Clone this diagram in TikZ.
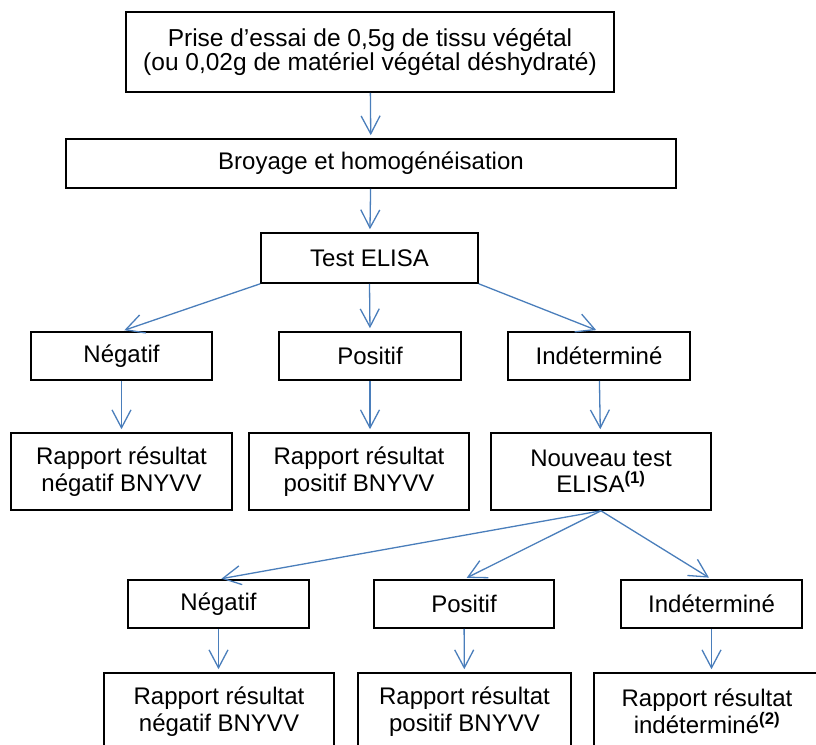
\documentclass[tikz,border=0pt]{standalone}
\usepackage{fontspec}
\setmainfont{Liberation Sans}
\usepackage{xcolor}
\usepackage{tikz}
\usetikzlibrary{arrows.meta,positioning,calc}
\definecolor{flowblue}{HTML}{4A7EBB}

\begin{document}
\begin{tikzpicture}[x=1pt, y=-1pt,
    box/.style={draw=black, line width=1.6pt, align=center, inner sep=0pt,
        font=\fontsize{24}{26.5}\selectfont},
    flow/.style={draw=flowblue, line width=1.3pt,
        -{Straight Barb[length=18pt,width=19pt]}, shorten >=3pt}]
    \clip (0,0) rectangle (816,744);

    % Preparation
    \node[box, font=\fontsize{24.5}{24}\selectfont, minimum width=488pt, minimum height=80pt]
        (prise) at (370,52)
        {Prise d’essai de 0,5g de tissu végétal\\(ou 0,02g de matériel végétal déshydraté)};
    \node[box, minimum width=610pt, minimum height=49pt] (broyage) at (371,163.5)
        {Broyage et homogénéisation};
    \node[box, minimum width=217pt, minimum height=50pt] (elisa) at (369.5,258) {Test ELISA};

    % First test
    \node[box, minimum width=181pt, minimum height=48pt] (neg) at (121.5,356) {Négatif};
    \node[box, minimum width=182pt, minimum height=48pt] (pos) at (370,356) {Positif};
    \node[box, minimum width=182pt, minimum height=48pt] (ind) at (599,356) {Indéterminé};

    \node[box, minimum width=221pt, minimum height=77pt] (rneg) at (121.5,471.5)
        {Rapport résultat\\négatif BNYVV};
    \node[box, minimum width=220pt, minimum height=77pt] (rpos) at (359,471.5)
        {Rapport résultat\\positif BNYVV};
    \node[box, minimum width=220pt, minimum height=77pt] (nouveau) at (601,471.5)
        {Nouveau test\\ELISA\textsuperscript{\bfseries(1)}};

    % Second test
    \node[box, minimum width=181pt, minimum height=48pt] (neg2) at (218.5,604) {Négatif};
    \node[box, minimum width=180pt, minimum height=48pt] (pos2) at (464,604) {Positif};
    \node[box, minimum width=181pt, minimum height=48pt] (ind2) at (711.5,604) {Indéterminé};

    \node[box, minimum width=230pt, minimum height=77pt] (rneg2) at (219,711.5)
        {Rapport résultat\\négatif BNYVV};
    \node[box, minimum width=213pt, minimum height=77pt] (rpos2) at (464.5,711.5)
        {Rapport résultat\\positif BNYVV};
    \node[box, minimum width=226pt, minimum height=77pt] (rind2) at (707,711.5)
        {Rapport résultat\\indéterminé\textsuperscript{\bfseries(2)}};

    % Connectors
    \draw[flow] (prise) -- (broyage);
    \draw[flow] (broyage) -- (elisa);
    \draw[flow] (elisa.south west) -- (neg.north);
    \draw[flow] (elisa.south) -- (pos.north);
    \draw[flow] (elisa.south east) -- (ind.north);
    \draw[flow] (neg) -- (rneg);
    \draw[flow] (pos.south) -- (pos.south |- rpos.north);
    \draw[flow] (ind) -- (nouveau);
    \draw[flow] (nouveau.south) -- (neg2.north);
    \draw[flow] (nouveau.south) -- (pos2.north);
    \draw[flow] (nouveau.south) -- (ind2.north);
    \draw[flow] (neg2.south) -- (neg2.south |- rneg2.north);
    \draw[flow] (pos2) -- (rpos2);
    \draw[flow] (ind2.south) -- (ind2.south |- rind2.north);
\end{tikzpicture}
\end{document}
